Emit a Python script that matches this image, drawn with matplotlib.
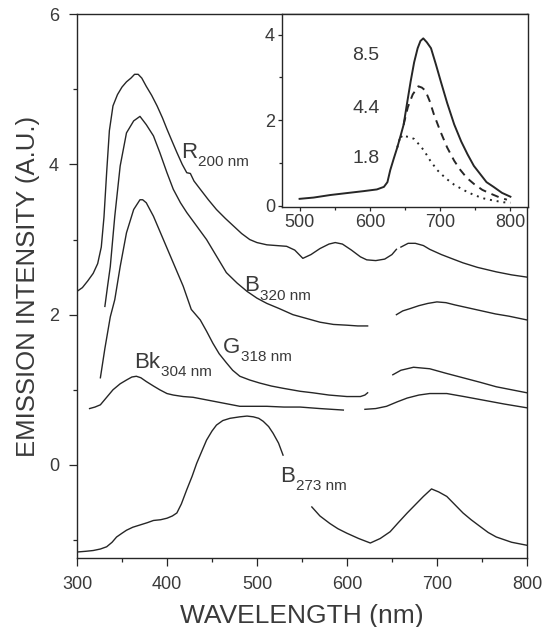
import numpy as np
import matplotlib

matplotlib.use("Agg")
import matplotlib.pyplot as plt
from matplotlib.ticker import MultipleLocator

plt.rcParams["font.family"] = ["Liberation Sans", "DejaVu Sans"]

nan = np.nan

# --- main panel spectra (wavelength nm, intensity A.U.); nan = gap in trace ---
wl_r200 = [300, 306, 312, 318, 323, 327, 330, 333, 336, 340, 345, 350, 355, 360, 364, 368,
           372, 377, 383, 389, 395, 400, 406, 411, 417, 422, 426, 430, 437, 446, 455, 465,
           474, 483, 492, 500, 511, 522, 533, 542, 551, 560, 570, 580, 587, 595, 605, 615,
           622, 632, 642, 650, 655, 657, 660, 668, 676, 685, 692, 705, 718, 729, 745, 766,
           783, 800]
int_r200 = [2.31, 2.36, 2.45, 2.55, 2.68, 2.90, 3.30, 3.90, 4.45, 4.78, 4.93, 5.03, 5.10,
            5.15, 5.20, 5.20, 5.15, 5.04, 4.92, 4.78, 4.62, 4.47, 4.30, 4.16, 4.00, 3.89,
            3.88, 3.78, 3.67, 3.53, 3.40, 3.28, 3.18, 3.08, 3.00, 2.96, 2.93, 2.92, 2.91,
            2.86, 2.75, 2.80, 2.88, 2.94, 2.96, 2.94, 2.86, 2.77, 2.73, 2.72, 2.74, 2.80,
            2.87, nan, 2.90, 2.95, 2.95, 2.92, 2.87, 2.80, 2.74, 2.69, 2.63, 2.57, 2.53, 2.50]

wl_b320 = [331, 334, 337, 342, 348, 355, 363, 370, 377, 385, 392, 400, 407, 415, 422, 433,
           444, 455, 466, 478, 489, 500, 511, 525, 540, 555, 570, 585, 600, 612, 623, 640,
           655, 662, 670, 680, 690, 700, 710, 720, 735, 750, 765, 780, 800]
int_b320 = [2.11, 2.38, 2.64, 3.31, 3.98, 4.42, 4.58, 4.64, 4.53, 4.38, 4.16, 3.89, 3.67,
            3.49, 3.36, 3.18, 3.00, 2.78, 2.56, 2.42, 2.31, 2.22, 2.15, 2.08, 2.00, 1.95,
            1.90, 1.87, 1.86, 1.85, 1.85, nan, 2.00, 2.05, 2.08, 2.12, 2.15, 2.17, 2.16,
            2.13, 2.09, 2.05, 2.01, 1.98, 1.93]

wl_g318 = [326, 331, 337, 342, 348, 355, 363, 370, 373, 377, 385, 396, 407, 418, 427, 437,
           444, 451, 458, 466, 473, 481, 492, 503, 516, 529, 548, 562, 580, 600, 615, 620,
           623, 640, 651, 660, 674, 692, 710, 729, 748, 766, 783, 800]
int_g318 = [1.16, 1.55, 1.97, 2.20, 2.64, 3.09, 3.40, 3.53, 3.53, 3.49, 3.31, 3.00, 2.69,
            2.38, 2.07, 1.93, 1.78, 1.62, 1.48, 1.36, 1.26, 1.18, 1.13, 1.09, 1.05, 1.02,
            0.98, 0.96, 0.93, 0.91, 0.91, 0.93, 0.96, nan, 1.20, 1.26, 1.30, 1.28, 1.22,
            1.16, 1.10, 1.04, 1.00, 0.96]

wl_bk304 = [314, 320, 326, 333, 340, 348, 355, 361, 366, 371, 377, 385, 392, 400, 407, 418,
            429, 442, 455, 468, 481, 496, 511, 530, 548, 570, 596, 608, 620, 632, 644, 656,
            667, 680, 692, 711, 730, 748, 775, 800]
int_bk304 = [0.75, 0.77, 0.80, 0.90, 1.00, 1.08, 1.13, 1.17, 1.18, 1.16, 1.11, 1.05, 1.00,
             0.95, 0.93, 0.91, 0.90, 0.87, 0.84, 0.81, 0.78, 0.78, 0.78, 0.77, 0.77, 0.75,
             0.73, nan, 0.74, 0.75, 0.78, 0.84, 0.89, 0.93, 0.95, 0.95, 0.91, 0.87, 0.81, 0.76]

wl_b273 = [300, 310, 318, 326, 333, 339, 344, 350, 355, 362, 370, 378, 385, 393, 400, 406,
           411, 416, 422, 428, 433, 439, 444, 450, 455, 462, 470, 481, 489, 496, 502, 507,
           513, 518, 524, 529, 545, 561, 570, 581, 590, 600, 613, 626, 637, 648, 657, 667,
           676, 685, 694, 702, 711, 720, 729, 738, 748, 757, 766, 783, 800]
int_b273 = [-1.16, -1.15, -1.14, -1.12, -1.09, -1.03, -0.96, -0.91, -0.87, -0.83, -0.80,
            -0.77, -0.74, -0.73, -0.71, -0.68, -0.64, -0.52, -0.33, -0.15, 0.02, 0.19, 0.33,
            0.45, 0.53, 0.59, 0.62, 0.64, 0.65, 0.64, 0.62, 0.58, 0.51, 0.42, 0.29, 0.13,
            nan, -0.56, -0.68, -0.78, -0.85, -0.91, -0.98, -1.04, -0.98, -0.89, -0.77,
            -0.64, -0.53, -0.42, -0.32, -0.36, -0.42, -0.53, -0.64, -0.73, -0.82, -0.90,
            -0.96, -1.03, -1.07]

# --- inset spectra ---
wl_rise = [500, 520, 544, 570, 591, 610, 620, 625, 629, 634, 639, 644, 648]
int_rise = [0.16, 0.19, 0.25, 0.30, 0.34, 0.38, 0.44, 0.55, 0.83, 1.10, 1.36, 1.65, 1.89]

wl_85 = [653, 658, 663, 668, 672, 676, 681, 687, 694, 701, 710, 720, 730, 739, 748, 757,
         766, 776, 788, 800]
int_85 = [2.40, 2.90, 3.35, 3.68, 3.85, 3.91, 3.82, 3.68, 3.30, 2.90, 2.40, 1.90, 1.50,
          1.20, 0.93, 0.74, 0.55, 0.44, 0.30, 0.21]

wl_44 = [654, 661, 669, 674, 679, 685, 691, 700, 710, 720, 729, 738, 748, 760, 772, 785, 795]
int_44 = [2.30, 2.60, 2.79, 2.76, 2.69, 2.45, 2.14, 1.75, 1.36, 1.05, 0.83, 0.65, 0.51,
          0.37, 0.28, 0.19, 0.14]

wl_18 = [646, 651, 657, 663, 670, 677, 686, 696, 708, 720, 734, 748, 762, 776, 790, 800]
int_18 = [1.58, 1.62, 1.60, 1.56, 1.43, 1.29, 1.05, 0.83, 0.64, 0.49, 0.36, 0.25, 0.17,
          0.12, 0.08, 0.07]

curve_labels = [("R", "200 nm", 416, 4.09), ("B", "320 nm", 486, 2.31),
                ("G", "318 nm", 462, 1.49), ("Bk", "304 nm", 364, 1.29),
                ("B", "273 nm", 526, -0.23)]
inset_labels = [("8.5", 3.52), ("4.4", 2.28), ("1.8", 1.10)]

LINE = "#262626"
TXT = "#3a3a3a"

fig = plt.figure(figsize=(5.46, 6.27), dpi=100)
ax = fig.add_axes([0.141, 0.110, 0.824, 0.8673])

for wl, y in [(wl_r200, int_r200), (wl_b320, int_b320), (wl_g318, int_g318),
              (wl_bk304, int_bk304), (wl_b273, int_b273)]:
    ax.plot(wl, y, color=LINE, lw=1.0)

ax.set_xlim(300, 800)
ax.set_ylim(-1.24, 6)
ax.xaxis.set_major_locator(MultipleLocator(100))
ax.xaxis.set_minor_locator(MultipleLocator(50))
ax.yaxis.set_major_locator(MultipleLocator(2))
ax.yaxis.set_minor_locator(MultipleLocator(1))
ax.tick_params(which="major", direction="out", length=6, width=0.9, labelsize=13,
               labelcolor=TXT, color=LINE)
ax.tick_params(which="minor", direction="out", length=3, width=0.9, color=LINE)
ax.tick_params(axis="x", pad=7)
ax.tick_params(axis="y", pad=7)
for s in ax.spines.values():
    s.set_linewidth(1.0)
    s.set_color(LINE)

ax.set_xlabel("WAVELENGTH (nm)", fontsize=19, color=TXT, labelpad=8)
ax.set_ylabel("EMISSION INTENSITY (A.U.)", fontsize=18.5, color=TXT, labelpad=6)

for main, sub, x, y in curve_labels:
    t = ax.text(x, y, main, fontsize=16, color=TXT, ha="left", va="baseline")
    ax.annotate(sub, xy=(1, 0), xycoords=t, xytext=(0.5, -4.5),
                textcoords="offset points", fontsize=11, color=TXT,
                ha="left", va="bottom")

# inset
ins = fig.add_axes([0.5165, 0.6699, 0.4505, 0.3078])
ins.plot(wl_rise + wl_85, int_rise + int_85, color=LINE, lw=1.4)
ins.plot(wl_rise[-1:] + wl_44, int_rise[-1:] + int_44, color=LINE, lw=1.4,
         linestyle=(0, (4, 3)))
ins.plot(wl_rise[-3:-1] + wl_18, int_rise[-3:-1] + int_18, color=LINE, lw=1.4,
         linestyle=(0, (1, 2.5)))
ins.set_xlim(475, 825)
ins.set_ylim(-0.03, 4.48)
ins.xaxis.set_major_locator(MultipleLocator(100))
ins.xaxis.set_minor_locator(MultipleLocator(50))
ins.yaxis.set_major_locator(MultipleLocator(2))
ins.yaxis.set_minor_locator(MultipleLocator(1))
ins.tick_params(which="major", direction="out", length=3, width=0.9, labelsize=13,
                labelcolor=TXT, color=LINE, pad=2)
ins.tick_params(which="minor", direction="out", length=2, width=0.9, color=LINE)
for s in ins.spines.values():
    s.set_linewidth(1.0)
    s.set_color(LINE)
for txt, y in inset_labels:
    ins.text(575, y, txt, fontsize=14, color=TXT, ha="left", va="center")

fig.savefig("out.png", dpi=100)
